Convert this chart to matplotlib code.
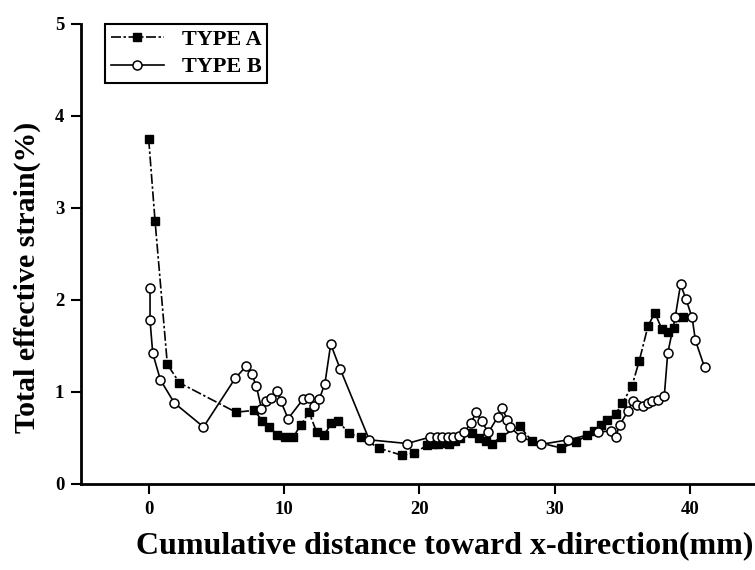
import numpy as np
import matplotlib.pyplot as plt

# Type A (filled squares)
xa = [0.0, 0.47, 1.38, 2.27, 6.45, 7.78, 8.4, 8.9, 9.5, 10.06, 10.67, 11.24,
      11.84, 12.4, 12.95, 13.5, 13.96, 14.8, 15.7, 17.0, 18.75, 19.6, 20.6,
      21.0, 21.4, 21.8, 22.2, 22.6, 23.0, 23.9, 24.4, 24.9, 25.4, 26.0, 27.4,
      28.3, 30.5, 31.6, 32.4, 32.9, 33.4, 33.9, 34.5, 35.0, 35.7, 36.25, 36.9,
      37.4, 37.9, 38.35, 38.8, 39.5]
ya = [3.75, 2.86, 1.30, 1.10, 0.78, 0.80, 0.69, 0.62, 0.53, 0.51, 0.51, 0.64,
      0.78, 0.57, 0.53, 0.66, 0.69, 0.55, 0.51, 0.39, 0.31, 0.34, 0.42,
      0.44, 0.43, 0.45, 0.44, 0.47, 0.50, 0.55, 0.50, 0.47, 0.44, 0.51, 0.63,
      0.47, 0.39, 0.46, 0.53, 0.58, 0.64, 0.70, 0.76, 0.88, 1.06, 1.34, 1.72,
      1.86, 1.69, 1.65, 1.70, 1.82]

# Type B (open circles)
xb = [0.1, 0.1, 0.3, 0.87, 1.9, 4.05, 6.4, 7.2, 7.6, 7.96, 8.33, 8.65, 9.07,
      9.49, 9.76, 10.3, 11.4, 11.84, 12.23, 12.6, 13.02, 13.45, 14.15, 16.3,
      19.1, 20.8, 21.3, 21.7, 22.1, 22.5, 22.9, 23.3, 23.8, 24.2, 24.6, 25.1,
      25.8, 26.1, 26.5, 26.7, 27.5, 28.96, 31.0, 33.2, 34.15, 34.5, 34.8, 35.4,
      35.75, 36.1, 36.5, 36.9, 37.2, 37.6, 38.1, 38.35, 38.9, 39.3, 39.7,
      40.15, 40.4, 41.07]
yb = [2.13, 1.78, 1.42, 1.13, 0.88, 0.62, 1.15, 1.28, 1.20, 1.06, 0.82, 0.90,
      0.93, 1.01, 0.90, 0.71, 0.92, 0.93, 0.85, 0.92, 1.09, 1.52, 1.25, 0.48,
      0.44, 0.51, 0.51, 0.51, 0.51, 0.51, 0.52, 0.56, 0.66, 0.78, 0.68, 0.56,
      0.73, 0.83, 0.70, 0.62, 0.51, 0.43, 0.48, 0.56, 0.58, 0.51, 0.64, 0.79,
      0.90, 0.86, 0.85, 0.88, 0.90, 0.91, 0.96, 1.42, 1.81, 2.17, 2.01,
      1.81, 1.56, 1.27]

xticks = [0, 10, 20, 30, 40]
yticks = [0, 1, 2, 3, 4, 5]

plt.rcParams['font.family'] = 'Liberation Serif'
plt.rcParams['font.weight'] = 'bold'

fig = plt.figure(figsize=(7.55, 5.7), dpi=100)
ax = fig.add_axes([0.1073, 0.1509, 0.8927, 0.8070])

ax.plot(xa, ya, color='black', lw=1.2, ls=(0, (6, 1.5, 1.5, 1.5)),
        marker='s', ms=6, mfc='black', mec='black', label='TYPE A')
ax.plot(xb, yb, color='black', lw=1.2, ls='-',
        marker='o', ms=6.5, mfc='white', mec='black', mew=1.1, label='TYPE B')

ax.set_xlim(-5, 44.8)
ax.set_ylim(0, 5)
ax.set_xticks(xticks)
ax.set_yticks(yticks)
ax.tick_params(direction='out', length=7, width=1.5, labelsize=13.5, pad=5)
for t in ax.get_xticklabels() + ax.get_yticklabels():
    t.set_fontweight('bold')

ax.spines['top'].set_visible(False)
ax.spines['right'].set_visible(False)
ax.spines['left'].set_linewidth(2)
ax.spines['bottom'].set_linewidth(2)

ax.set_xlabel('Cumulative distance toward x-direction(mm)', fontsize=23,
              fontweight='bold')
ax.xaxis.set_label_coords(0.54, -0.103)
ax.set_ylabel('Total effective strain(%)', fontsize=21.5, fontweight='bold')
ax.yaxis.set_label_coords(-0.059, 0.45)

leg = ax.legend(loc='upper left', bbox_to_anchor=(0.0356, 1.0), fancybox=False,
                edgecolor='black', framealpha=1, handlelength=2.4,
                borderpad=0.25, labelspacing=0.3, borderaxespad=0,
                prop={'weight': 'bold', 'size': 16})
leg.get_frame().set_linewidth(1.5)

fig.savefig('out.png', dpi=100)
